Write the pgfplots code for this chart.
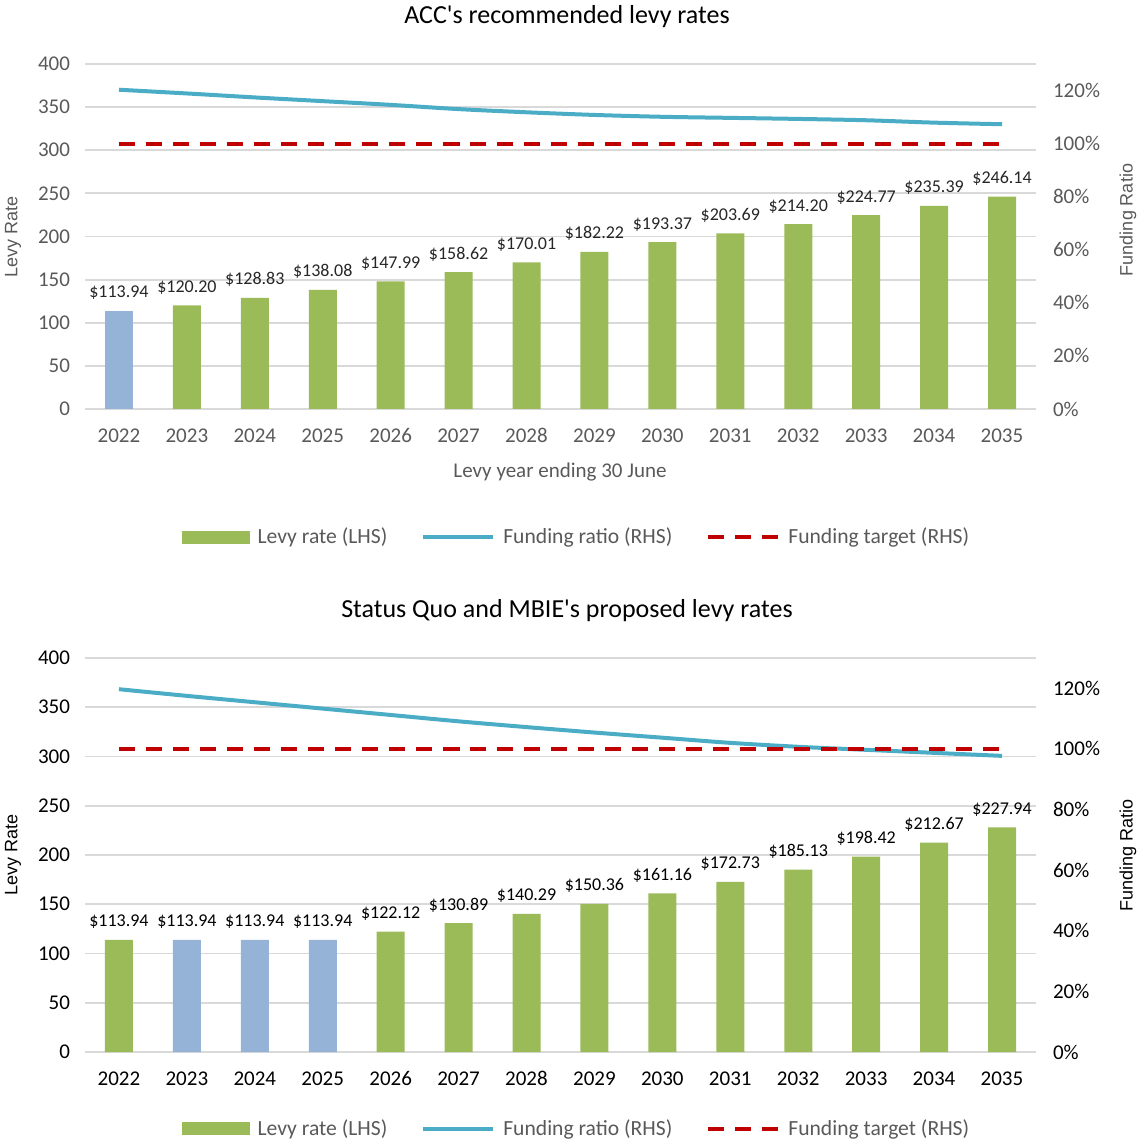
\documentclass[border=0pt]{standalone}
\usepackage{fontspec}
\setmainfont{Carlito}
\newfontfamily\arialf{Liberation Sans}
\usepackage{pgfplots}
\pgfplotsset{compat=1.18}
\definecolor{barg}{HTML}{9BBB59}
\definecolor{barb}{HTML}{95B3D7}
\definecolor{lineb}{HTML}{4BACC6}
\definecolor{tgt}{HTML}{C00000}
\definecolor{grd}{HTML}{D9D9D9}
\definecolor{txt}{HTML}{595959}
\definecolor{dark}{HTML}{262626}

\pgfplotsset{
  common/.style={width=475.5pt, scale only axis,
    xmin=2021.5, xmax=2035.5, ymin=0,
    /pgf/number format/1000 sep={},
    /pgf/number format/assume math mode=true,
    tick style={draw=none}, axis line style={draw=none},
    clip=false},
  leftax/.style={common, ymax=400, ytick={0,50,...,400},
    ymajorgrids, grid style={grd, line width=0.9pt},
    xtick={2022,...,2035},
    ybar, bar width=14pt,
    yticklabel style={xshift=-4pt},
    xticklabel style={yshift=-2pt},
    nodes near coords={\$\pgfmathprintnumber[fixed,fixed zerofill,precision=2]{\pgfplotspointmeta}},
    every node near coord/.append style={font=\fontsize{9}{10}\selectfont, yshift=2pt}},
  rightax/.style={common, ymax=130, ytick={0,20,...,120},
    yticklabel={\pgfmathprintnumber{\tick}\%},
    axis y line*=right, hide x axis,
    yticklabel style={xshift=5pt},
    legend columns=3,
    legend style={draw=none, fill=none, font=\fontsize{10.8}{12}\selectfont, text=txt,
      /tikz/every even column/.append style={column sep=13pt},
      nodes={inner ysep=2pt, inner xsep=4pt}},
    legend image code/.code={\draw[#1] (0pt,0pt) -- (35pt,0pt);}},
}

\begin{document}
\begin{tikzpicture}
\path[use as bounding box] (0pt,0pt) rectangle (568.5pt,570pt);

% ---------- TOP ----------
\begin{axis}[leftax, at={(42.5pt,365.5pt)}, anchor=south west, height=172.5pt,
  ticklabel style={font=\fontsize{10.5}{12}\selectfont, text=txt},
  every node near coord/.append style={text=dark}]
\addplot[fill=barb, draw=none, bar shift=0pt] coordinates {(2022,113.94)};
\addplot[fill=barg, draw=none, bar shift=0pt] coordinates {
(2023,120.20) (2024,128.83) (2025,138.08) (2026,147.99) (2027,158.62) (2028,170.01)
(2029,182.22) (2030,193.37) (2031,203.69) (2032,214.20) (2033,224.77) (2034,235.39) (2035,246.14)};
\end{axis}
\begin{axis}[rightax, at={(42.5pt,365.5pt)}, anchor=south west, height=172.5pt,
  ticklabel style={font=\fontsize{10.5}{12}\selectfont, text=txt},
  legend style={at={(0.52,-0.371)}, anchor=center}]
\addlegendimage{legend image code/.code={\fill[barg] (0pt,-3pt) rectangle (33.5pt,3pt);}}
\addlegendentry{Levy rate (LHS)}
\addplot[lineb, line width=2pt, smooth] coordinates {
(2022,120.3) (2023,118.9) (2024,117.4) (2025,116.0) (2026,114.6) (2027,113.0) (2028,111.8)
(2029,110.8) (2030,110.1) (2031,109.7) (2032,109.3) (2033,108.8) (2034,107.9) (2035,107.3)};
\addlegendentry{Funding ratio (RHS)}
\addplot[tgt, line width=2pt, dash pattern=on 8pt off 5.5pt] coordinates {
(2022,100) (2023,100) (2024,100) (2025,100) (2026,100) (2027,100) (2028,100)
(2029,100) (2030,100) (2031,100) (2032,100) (2033,100) (2034,100) (2035,100)};
\addlegendentry{Funding target (RHS)}
\end{axis}

% ---------- BOTTOM ----------
\begin{axis}[leftax, at={(42.5pt,44pt)}, anchor=south west, height=197pt,
  ticklabel style={font=\fontsize{10.5}{12}\selectfont, text=black},
  every node near coord/.append style={text=black}]
\addplot[fill=barg, draw=none, bar shift=0pt] coordinates {(2022,113.94)
(2026,122.12) (2027,130.89) (2028,140.29) (2029,150.36) (2030,161.16) (2031,172.73)
(2032,185.13) (2033,198.42) (2034,212.67) (2035,227.94)};
\addplot[fill=barb, draw=none, bar shift=0pt] coordinates {(2023,113.94) (2024,113.94) (2025,113.94)};
\end{axis}
\begin{axis}[rightax, at={(42.5pt,44pt)}, anchor=south west, height=197pt,
  ticklabel style={font=\fontsize{10.5}{12}\selectfont, text=black},
  legend style={at={(0.52,-0.195)}, anchor=center}]
\addlegendimage{legend image code/.code={\fill[barg] (0pt,-3pt) rectangle (33.5pt,3pt);}}
\addlegendentry{Levy rate (LHS)}
\addplot[lineb, line width=2pt, smooth] coordinates {
(2022,119.7) (2023,117.5) (2024,115.4) (2025,113.3) (2026,111.2) (2027,109.1) (2028,107.2)
(2029,105.4) (2030,103.7) (2031,102.0) (2032,100.7) (2033,99.7) (2034,98.7) (2035,97.7)};
\addlegendentry{Funding ratio (RHS)}
\addplot[tgt, line width=2pt, dash pattern=on 8pt off 5.5pt] coordinates {
(2022,100) (2023,100) (2024,100) (2025,100) (2026,100) (2027,100) (2028,100)
(2029,100) (2030,100) (2031,100) (2032,100) (2033,100) (2034,100) (2035,100)};
\addlegendentry{Funding target (RHS)}
\end{axis}

% ---------- titles and axis titles ----------
\node[font=\fontsize{13}{15}\selectfont, text=black] at (283.5pt,561.5pt) {ACC\textquotesingle s recommended levy rates};
\node[font=\fontsize{13}{15}\selectfont, text=black] at (283.5pt,264.5pt) {Status Quo and MBIE\textquotesingle s proposed levy rates};
\node[font=\fontsize{10.5}{12}\selectfont, text=txt] at (280pt,334pt) {Levy year ending 30 June};
\node[font=\arialf\fontsize{9}{10}\selectfont, text=txt, rotate=90] at (6.5pt,451.5pt) {Levy Rate};
\node[font=\arialf\fontsize{9}{10}\selectfont, text=txt, rotate=90] at (564pt,460pt) {Funding Ratio};
\node[font=\arialf\fontsize{9}{10}\selectfont, text=black, rotate=90] at (6.5pt,142.5pt) {Levy Rate};
\node[font=\arialf\fontsize{9}{10}\selectfont, text=black, rotate=90] at (564pt,142.5pt) {Funding Ratio};
\end{tikzpicture}
\end{document}
